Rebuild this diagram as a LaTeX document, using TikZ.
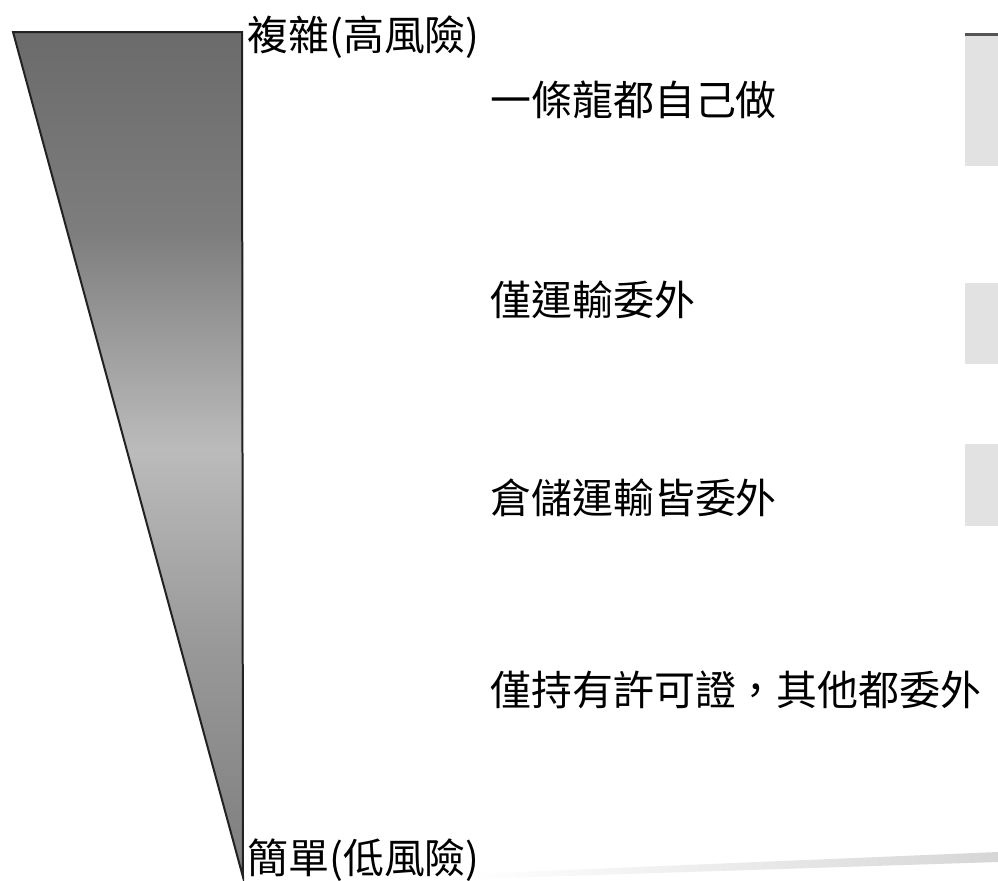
\documentclass[tikz,border=0pt]{standalone}
\usepackage{fontspec}
\newfontfamily\cjk{Noto Sans CJK TC}

\definecolor{shadeTop}{HTML}{6B6B6B}
\definecolor{shadeUpper}{HTML}{7D7D7D}
\definecolor{shadeMid}{HTML}{BBBBBB}
\definecolor{shadeMidLow}{HTML}{989898}
\definecolor{shadeLow}{HTML}{7E7E7E}
\definecolor{edgeDark}{HTML}{222222}
\definecolor{boxGray}{HTML}{E2E2E2}
\definecolor{boxRule}{HTML}{555555}

\pgfdeclareverticalshading{riskShade}{100bp}{color(0bp)=(shadeLow); color(25bp)=(shadeLow);
  color(38.4bp)=(shadeMidLow); color(50.3bp)=(shadeMid); color(63.3bp)=(shadeUpper);
  color(75bp)=(shadeTop); color(100bp)=(shadeTop)}

\providecommand*{\triLeft}{}
\providecommand*{\triRight}{}
\providecommand*{\triTop}{}
\providecommand*{\triBottom}{}
\providecommand*{\xLevel}{}
\renewcommand*{\triLeft}{13}
\renewcommand*{\triRight}{242}
\renewcommand*{\triTop}{32}
\renewcommand*{\triBottom}{877}
\renewcommand*{\xLevel}{490}

\begin{document}
\begin{tikzpicture}[x=0.02cm,y=-0.02cm,
    risk/.style={anchor=west,inner sep=0pt,font=\cjk\fontsize{23.3}{28}\selectfont,
      text height=20.5pt,text depth=2.8pt},
    level/.style={risk}]
  \useasboundingbox (0,0) rectangle (998,880);
  \fill [white] (0,0) rectangle (998,880);
  \shade [shading=riskShade,draw=edgeDark,line width=0.04cm,line join=miter]
    (\triLeft,\triTop) -- (\triRight,\triTop) -- (\triRight + 1,\triBottom) -- cycle;
  \shade [left color=white,right color=black!16] (470,874) -- (998,852) -- (998,862) -- (470,879) -- cycle;
  \foreach \top/\bottom in {33/166,283/364,444/526} {
    \fill [boxGray] (965,\top) rectangle (998,\bottom);
  }
  \draw [boxRule,line width=0.06cm] (965,34) -- (998,34);
  \node [risk] (high) at (247,35) {複雜(高風險)};
  \node [risk] (low) at (247,858) {簡單(低風險)};
  \node [level] (inhouse) at (\xLevel,100) {一條龍都自己做};
  \node [level] (transport) at (\xLevel,300) {僅運輸委外};
  \node [level] (warehouse) at (\xLevel,498) {倉儲運輸皆委外};
  \node [level] (license) at (\xLevel,690) {僅持有許可證，其他都委外};
\end{tikzpicture}
\end{document}
